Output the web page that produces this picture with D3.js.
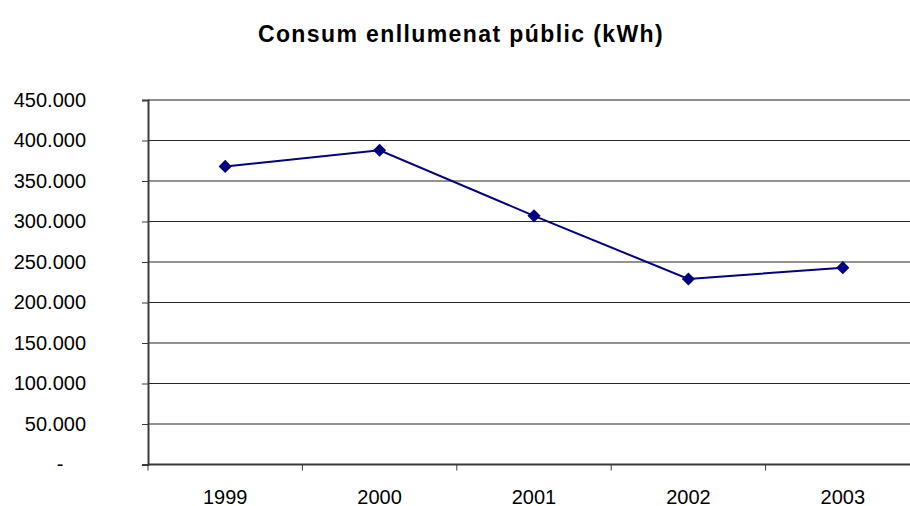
<!DOCTYPE html>
<html>
<head>
<meta charset="utf-8">
<script src="https://cdn.jsdelivr.net/npm/d3@7"></script>
<style>
  body { margin: 0; background: #fff; }
  text { font-family: "Liberation Sans", Arial, sans-serif; }
</style>
</head>
<body>
<script>
var canvasWidth = 910;
var canvasHeight = 506;

var years = ["1999", "2000", "2001", "2002", "2003"];
var consum = [368000, 388000, 307000, 229000, 243000];
var yTicks = [0, 50000, 100000, 150000, 200000, 250000, 300000, 350000, 400000, 450000];
var titleText = "Consum enllumenat públic (kWh)";

var plot = {left: 148, right: 920, top: 100, bottom: 464.5};

var svg = d3.select("body")
            .append("svg")
            .attr("width", canvasWidth)
            .attr("height", canvasHeight);

var x = d3.scaleBand()
          .domain(years)
          .range([plot.left, plot.right]);

var y = d3.scaleLinear()
          .domain([0, 450000])
          .range([plot.bottom, plot.top]);

// gridlines
svg.append("g")
   .selectAll("line")
   .data(yTicks.filter(d => d > 0 && d < 450000))
   .enter()
   .append("line")
   .attr("x1", plot.left)
   .attr("x2", plot.right)
   .attr("y1", d => y(d))
   .attr("y2", d => y(d))
   .attr("stroke", "#262626")
   .attr("stroke-width", 1.2);

// top border
svg.append("line")
   .attr("x1", plot.left).attr("x2", plot.right)
   .attr("y1", y(450000)).attr("y2", y(450000))
   .attr("stroke", "#8c8c8c")
   .attr("stroke-width", 2);

// y axis
var yAxis = svg.append("g")
   .attr("transform", "translate(" + plot.left + ",0)")
   .call(d3.axisLeft(y)
           .tickValues(yTicks)
           .tickSize(6)
           .tickPadding(56)
           .tickFormat(d => d === 0 ? "-" : d3.format(",")(d).replace(/,/g, ".")));

yAxis.select(".domain").attr("stroke", "#3a3a3a").attr("stroke-width", 2);
yAxis.selectAll(".tick line").attr("stroke", "#3a3a3a");
yAxis.selectAll(".tick text")
     .attr("font-size", "20px")
     .attr("font-family", "Liberation Sans, Arial, sans-serif")
     .attr("fill", "#000");
yAxis.selectAll(".tick text")
     .filter(d => d === 0)
     .attr("text-anchor", "middle")
     .attr("x", 60 - plot.left);

// x axis
var boundaries = years.map(d => x(d)).concat([plot.right]);
var xAxis = svg.append("g")
   .attr("transform", "translate(0," + plot.bottom + ")");

xAxis.append("line")
     .attr("x1", plot.left).attr("x2", plot.right)
     .attr("stroke", "#3a3a3a")
     .attr("stroke-width", 2);

xAxis.selectAll(".xtick")
     .data(boundaries)
     .enter()
     .append("line")
     .attr("class", "xtick")
     .attr("x1", d => d).attr("x2", d => d)
     .attr("y1", 0).attr("y2", 6)
     .attr("stroke", "#3a3a3a");

xAxis.selectAll(".xlabel")
     .data(years)
     .enter()
     .append("text")
     .attr("class", "xlabel")
     .attr("x", d => x(d) + x.bandwidth() / 2)
     .attr("y", 39)
     .attr("text-anchor", "middle")
     .attr("font-size", "20px")
     .text(d => d);

// series line
var line = d3.line()
             .x((d, i) => x(years[i]) + x.bandwidth() / 2)
             .y(d => y(d));

svg.append("path")
   .datum(consum)
   .attr("d", line)
   .attr("fill", "none")
   .attr("stroke", "#000080")
   .attr("stroke-width", 2);

svg.selectAll(".marker")
   .data(consum)
   .enter()
   .append("path")
   .attr("class", "marker")
   .attr("d", d3.symbol().type(d3.symbolDiamond2).size(110))
   .attr("transform", (d, i) => "translate(" + (x(years[i]) + x.bandwidth() / 2) + "," + y(d) + ")")
   .attr("fill", "#000080");

// title
svg.append("text")
   .attr("x", 461)
   .attr("y", 42)
   .attr("text-anchor", "middle")
   .attr("font-size", "23px")
   .attr("font-weight", "bold")
   .attr("letter-spacing", "1.4px")
   .text(titleText);
</script>
</body>
</html>
